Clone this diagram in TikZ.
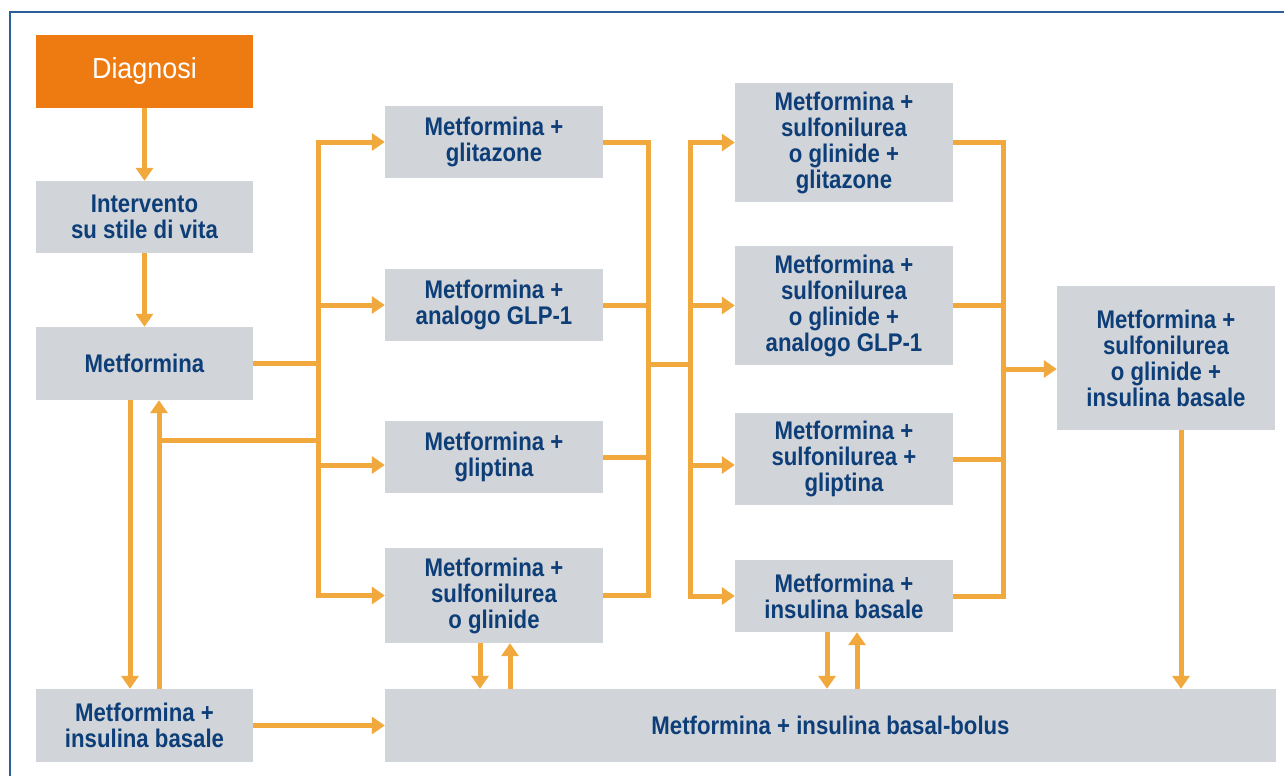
\documentclass[tikz,border=0pt]{standalone}
\usepackage{fontspec}
\setmainfont[FakeStretch=0.87]{Liberation Sans}
\newfontfamily\diagfont[FakeStretch=0.93]{Liberation Sans}
\usetikzlibrary{arrows.meta}
\definecolor{boxgray}{HTML}{D1D4D9}
\definecolor{txtblue}{HTML}{0D3E78}
\definecolor{arrorange}{HTML}{F1A83C}
\definecolor{diagorange}{HTML}{EE7B11}
\definecolor{frameblue}{HTML}{2C5F98}
\begin{document}
\begin{tikzpicture}[x=1pt,y=-1pt,
  box/.style={fill=boxgray, text=txtblue, align=center, inner sep=0pt,
    minimum width=218pt, font=\bfseries\fontsize{25.5}{26}\selectfont},
  diagbox/.style={fill=diagorange, text=white, align=center, inner sep=0pt,
    minimum width=217pt, minimum height=73pt, font=\diagfont\fontsize{29}{30}\selectfont},
  conn/.style={draw=arrorange, line width=5pt},
  arr/.style={conn, -{Triangle[length=13pt,width=17pt]}},
]
\useasboundingbox (0,0) rectangle (1284,776);
\fill[white] (0,0) rectangle (1284,776);
\draw[frameblue, line width=2pt] (10,776) -- (10,12) -- (1284,12);

% column 1
\node[diagbox] (diag) at (144.5,71.5) {Diagnosi};
\node[box, minimum width=217pt, minimum height=72pt] (inter) at (144.5,217) {Intervento\\su stile di vita};
\node[box, minimum width=217pt, minimum height=73pt] (met) at (144.5,363.5) {Metformina};
\node[box, minimum width=217pt, minimum height=73pt] (mib) at (144.5,725.5) {Metformina +\\insulina basale};

% column 2
\node[box, minimum height=72pt] (c2a) at (494,142) {Metformina +\\glitazone};
\node[box, minimum height=72pt] (c2b) at (494,305) {Metformina +\\analogo GLP-1};
\node[box, minimum height=72pt] (c2c) at (494,457) {Metformina +\\gliptina};
\node[box, minimum height=95pt] (c2d) at (494,595.5) {Metformina +\\sulfonilurea\\o glinide};

% column 3
\node[box, minimum height=119pt] (c3a) at (844,142.5) {Metformina +\\sulfonilurea\\o glinide +\\glitazone};
\node[box, minimum height=119pt] (c3b) at (844,305.5) {Metformina +\\sulfonilurea\\o glinide +\\analogo GLP-1};
\node[box, minimum height=92pt] (c3c) at (844,459) {Metformina +\\sulfonilurea +\\gliptina};
\node[box, minimum height=72pt] (c3d) at (844,596) {Metformina +\\insulina basale};

% column 4
\node[box, minimum height=144pt] (c4) at (1166,358) {Metformina +\\sulfonilurea\\o glinide +\\insulina basale};

% bottom bar
\node[box, minimum width=891pt, minimum height=73pt] (bb) at (830.5,725.5) {Metformina + insulina basal-bolus};

% helper coordinates
\coordinate (bus1) at (318,363.5);
\coordinate (j1) at (159,440);
\coordinate (m2) at (648,364);
\coordinate (m3) at (690,364);
\coordinate (m4) at (1003,369);
\coordinate (c2cin) at ([yshift=-8pt]c2c.west);
\coordinate (c3cin) at ([yshift=-6pt]c3c.west);
\coordinate (metdn) at ([xshift=-14.5pt]met.south);
\coordinate (metup) at ([xshift=14.5pt]met.south);
\coordinate (c2ddn) at ([xshift=-14pt]c2d.south);
\coordinate (c2dup) at ([xshift=16pt]c2d.south);
\coordinate (c3ddn) at ([xshift=-17pt]c3d.south);
\coordinate (c3dup) at ([xshift=13pt]c3d.south);
\coordinate (c4dn) at ([xshift=15pt]c4.south);

% column 1 connectors
\draw[arr] (diag) -- (inter);
\draw[arr] (inter) -- (met);
\draw[arr] (metdn) -- (metdn |- mib.north);
\draw[arr] (metup |- mib.north) -- (metup);
\draw[conn] (j1) -- (j1 -| bus1);
\draw[conn] (met.east) -- (bus1);
\draw[arr] (mib) -- (bb);

% bus 1 to column 2
\draw[arr] (bus1) |- (c2a.west);
\draw[arr] (bus1) |- (c2d.west);
\draw[arr] (bus1 |- c2b.west) -- (c2b.west);
\draw[arr] (bus1 |- c2cin) -- (c2cin);

% column 2 to bus 2
\draw[conn] (c2a.east) -| (m2);
\draw[conn] (c2d.east) -| (m2);
\draw[conn] (c2b.east) -- (c2b.east -| m2);
\draw[conn] (c2c.east) -- (c2c.east -| m2);
\draw[conn] (m2) -- (m3);

% bus 3 to column 3
\draw[arr] (m3) |- (c3a.west);
\draw[arr] (m3) |- (c3d.west);
\draw[arr] (m3 |- c3b.west) -- (c3b.west);
\draw[arr] (m3 |- c3cin) -- (c3cin);

% column 3 to bus 4
\draw[conn] (c3a.east) -| (m4);
\draw[conn] (c3d.east) -| (m4);
\draw[conn] (c3b.east) -- (c3b.east -| m4);
\draw[conn] (c3c.east) -- (c3c.east -| m4);
\draw[arr] (m4) -- (m4 -| c4.west);

% to / from basal-bolus
\draw[arr] (c4dn) -- (c4dn |- bb.north);
\draw[arr] (c2ddn) -- (c2ddn |- bb.north);
\draw[arr] (c2dup |- bb.north) -- (c2dup);
\draw[arr] (c3ddn) -- (c3ddn |- bb.north);
\draw[arr] (c3dup |- bb.north) -- (c3dup);
\end{tikzpicture}
\end{document}
